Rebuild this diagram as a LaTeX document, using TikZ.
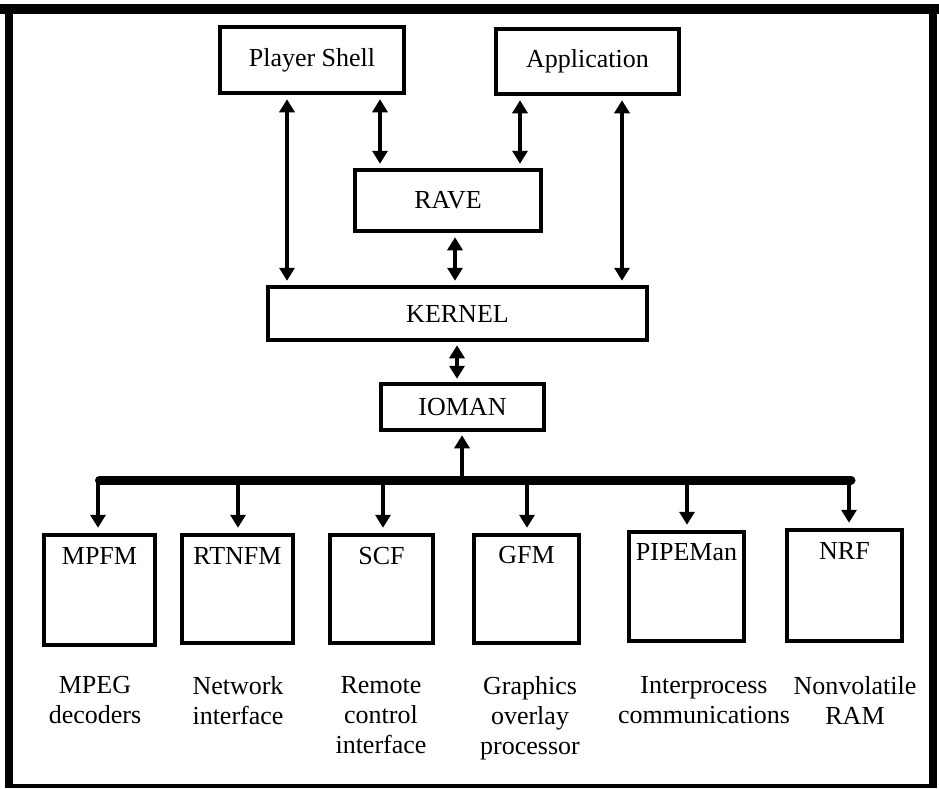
\documentclass[tikz,border=0pt]{standalone}
\usepackage{fontspec}
\setmainfont{Liberation Serif}
\usetikzlibrary{arrows.meta}
\begin{document}
\begin{tikzpicture}[x=1pt,y=-1pt,
  box/.style={draw, line width=4.5pt, inner sep=0pt, font=\fontsize{26}{30}\selectfont},
  lbl/.style={inner sep=0pt, anchor=base, font=\fontsize{26}{30}\selectfont},
  desc/.style={inner sep=0pt, align=center, anchor=north, font=\fontsize{26}{30}\selectfont},
  conn/.style={line width=4pt},
  tip/.style={-{Triangle[length=13pt,width=15pt]}},
  twotip/.style={{Triangle[length=13pt,width=15pt]}-{Triangle[length=13pt,width=15pt]}},
]
\useasboundingbox (0,0) rectangle (939,788);
% frame
\draw[line width=10pt] (0,9) -- (939,9);
\draw[line width=8pt] (9,4) -- (9,788);
\draw[line width=8pt] (933,4) -- (933,788);
\draw[line width=4pt] (5,786) -- (937,786);

% top boxes
\node[box, minimum width=184pt, minimum height=66pt] (ps) at (312,60) {Player Shell};
\node[box, minimum width=183pt, minimum height=65pt] (app) at (587.5,61.5) {Application};
\node[box, minimum width=186pt, minimum height=61pt] (rave) at (448,200.5) {RAVE};
\node[box, minimum width=379pt, minimum height=53pt] (kernel) at (457.5,313.5) {KERNEL};
\node[box, minimum width=163pt, minimum height=46pt] (ioman) at (462.5,407) {IOMAN};

% bottom boxes
\node[box, minimum width=111pt, minimum height=110pt] (mpfm) at (99.5,590) {};
\node[box, minimum width=111pt, minimum height=108pt] (rtnfm) at (237.5,589) {};
\node[box, minimum width=103pt, minimum height=108pt] (scf) at (381.5,589) {};
\node[box, minimum width=105pt, minimum height=108pt] (gfm) at (526.5,589) {};
\node[box, minimum width=115pt, minimum height=109pt] (pipe) at (686.5,586.5) {};
\node[box, minimum width=115pt, minimum height=111pt] (nrf) at (844.5,585.5) {};

\node[lbl] (mpfmt) at ([yshift=-32pt]mpfm.north) {MPFM};
\node[lbl] (rtnfmt) at ([yshift=-32pt]rtnfm.north) {RTNFM};
\node[lbl] (scft) at ([yshift=-32pt]scf.north) {SCF};
\node[lbl] (gfmt) at ([yshift=-31pt]gfm.north) {GFM};
\node[lbl] (pipet) at ([yshift=-31pt]pipe.north) {PIPEMan};
\node[lbl] (nrft) at ([yshift=-32pt]nrf.north) {NRF};

% descriptions
\node[desc] (d1) at (95,676) {MPEG\\decoders};
\node[desc] (d2) at (238,676) {Network\\interface};
\node[desc] (d3) at (381,676) {Remote\\control\\interface};
\node[desc] (d4) at (530,676) {Graphics\\overlay\\processor};
\node[desc] (d5) at (704,676) {Interprocess\\communications};
\node[desc] (d6) at (855,676) {Nonvolatile\\RAM};

% vertical connectors at top
\coordinate (x1) at (287,0);
\coordinate (x2) at (380,0);
\coordinate (x3) at (520,0);
\coordinate (x4) at (622,0);
\coordinate (x5) at (455,0);
\coordinate (x6) at (457,0);
\draw[conn,twotip,shorten <=4pt,shorten >=4pt] (x1 |- ps.south) -- (x1 |- kernel.north);
\draw[conn,twotip,shorten <=4pt,shorten >=4pt] (x2 |- ps.south) -- (x2 |- rave.north);
\draw[conn,twotip,shorten <=4pt,shorten >=4pt] (x3 |- app.south) -- (x3 |- rave.north);
\draw[conn,twotip,shorten <=4pt,shorten >=4pt] (x4 |- app.south) -- (x4 |- kernel.north);
\draw[conn,twotip,shorten <=4pt,shorten >=4pt] (x5 |- rave.south) -- (x5 |- kernel.north);
\draw[conn,twotip,shorten <=3pt,shorten >=3pt] (x6 |- kernel.south) -- (x6 |- ioman.north);

% bus
\coordinate (bl) at (99.5,480);
\coordinate (br) at (851,480);
\draw[line width=9pt, line cap=round] (bl) -- (br);
\coordinate (tio) at (462,480);
\draw[conn,tip,shorten >=3pt] (tio) -- (tio |- ioman.south);

\coordinate (t1) at (98,480);
\coordinate (t2) at (238,480);
\coordinate (t3) at (383,480);
\coordinate (t4) at (527,480);
\coordinate (t5) at (687,480);
\coordinate (t6) at (849,480);
\draw[conn,tip,shorten >=5pt] (t1) -- (t1 |- mpfm.north);
\draw[conn,tip,shorten >=5pt] (t2) -- (t2 |- rtnfm.north);
\draw[conn,tip,shorten >=5pt] (t3) -- (t3 |- scf.north);
\draw[conn,tip,shorten >=5pt] (t4) -- (t4 |- gfm.north);
\draw[conn,tip,shorten >=5pt] (t5) -- (t5 |- pipe.north);
\draw[conn,tip,shorten >=5pt] (t6) -- (t6 |- nrf.north);
\end{tikzpicture}
\end{document}
